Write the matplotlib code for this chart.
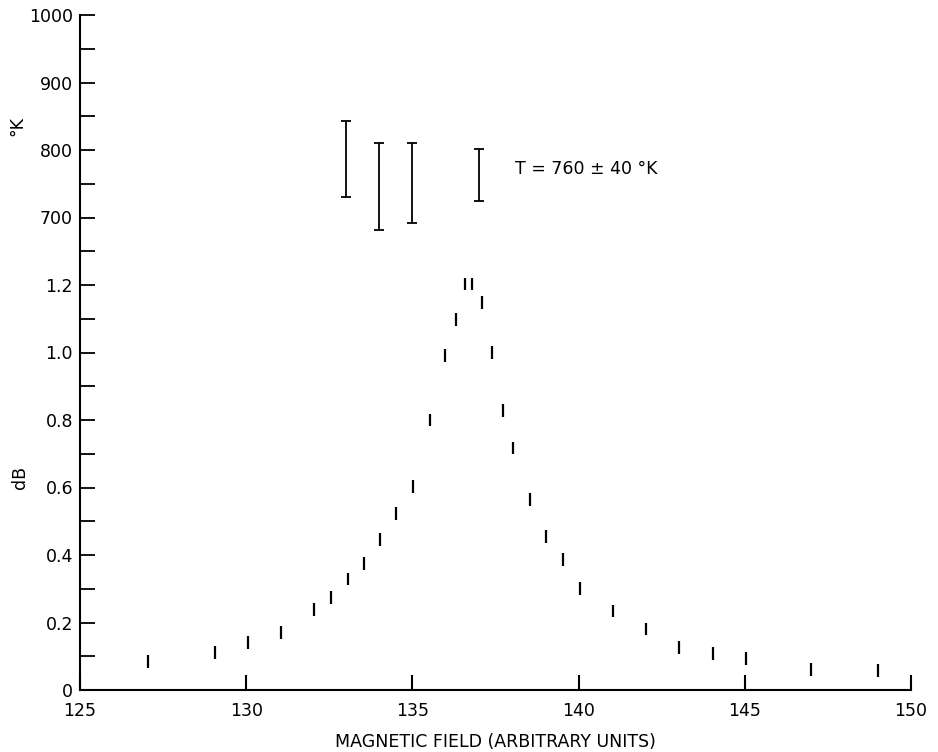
import matplotlib
matplotlib.use("Agg")
import matplotlib.pyplot as plt
import numpy as np

# ---- data ----
field = [127.05, 129.06, 130.05, 131.05, 132.05, 132.55, 133.05, 133.53, 134.02, 134.51,
         135.02, 135.53, 135.99, 136.30, 136.58, 136.79, 137.08, 137.39, 137.73, 138.02,
         138.54, 139.02, 139.53, 140.04, 141.03, 142.03, 143.02, 144.03, 145.03, 146.99, 149.0]
db = [0.084, 0.111, 0.140, 0.170, 0.239, 0.273, 0.329, 0.375, 0.445, 0.522,
      0.602, 0.800, 0.991, 1.098, 1.203, 1.203, 1.148, 1.000, 0.829, 0.717,
      0.564, 0.455, 0.386, 0.301, 0.234, 0.181, 0.125, 0.107, 0.093, 0.061, 0.058]
db_err = 0.019

temp_field = [133.0, 134.0, 135.0, 137.0]
temp_low = [731, 682, 692, 724]
temp_high = [843, 810, 810, 801]

x_ticks = [125, 130, 135, 140, 145, 150]
y_ticks = [0.0, 0.1, 0.2, 0.3, 0.4, 0.5, 0.6, 0.7, 0.8, 0.9, 1.0, 1.1, 1.2,
           1.3, 1.4, 1.5, 1.6, 1.7, 1.8, 1.9, 2.0]
y_labels = ["0", "", "0.2", "", "0.4", "", "0.6", "", "0.8", "", "1.0", "", "1.2",
            "", "700", "", "800", "", "900", "", "1000"]

plt.rcParams['font.family'] = ['DejaVu Sans']

fig = plt.figure(figsize=(9.38, 7.52), dpi=100)
ax = fig.add_axes([80/938, 1-690/752, (911-80)/938, (690-15)/752])

ax.errorbar(field, db, yerr=db_err, fmt='none', ecolor='black', elinewidth=1.6, capsize=0)

ax.set_xlim(125, 150)
ax.set_ylim(0, 2.0)
ax.set_xticks(x_ticks)
ax.set_xticklabels([str(v) for v in x_ticks])
ax.set_yticks(y_ticks)
ax.set_yticklabels(y_labels)

for s in ['top', 'right']:
    ax.spines[s].set_visible(False)
for s in ['left', 'bottom']:
    ax.spines[s].set_linewidth(1.5)

ax.tick_params(axis='x', direction='in', length=11, width=1.5, pad=9, labelsize=12.5)
ax.tick_params(axis='y', direction='in', length=11, width=1.3, pad=5, labelsize=12.5)

# temperature axis (same left spine, K = 500 * dB units)
ax2 = ax.twinx()
ax2.set_ylim(0, 1000)
ax2.axis('off')
centers = [(l + h) / 2 for l, h in zip(temp_low, temp_high)]
half = [(h - l) / 2 for l, h in zip(temp_low, temp_high)]
ax2.errorbar(temp_field, centers, yerr=half, fmt='none', ecolor='black',
             elinewidth=1.3, capsize=3.5, capthick=1.3)
ax2.text(138.1, 772, "T = 760 ± 40 °K", fontsize=12.5, va='center', ha='left')

fig.text(17/938, 1-126/752, "°K", rotation=90, ha='center', va='center', fontsize=12.5)
fig.text(20/938, 1-477/752, "dB", rotation=90, ha='center', va='center', fontsize=12.5)
fig.text(495/938, 1-742/752, "MAGNETIC FIELD (ARBITRARY UNITS)", ha='center', va='center',
         fontsize=12.5)

fig.savefig("out.png", dpi=100)
